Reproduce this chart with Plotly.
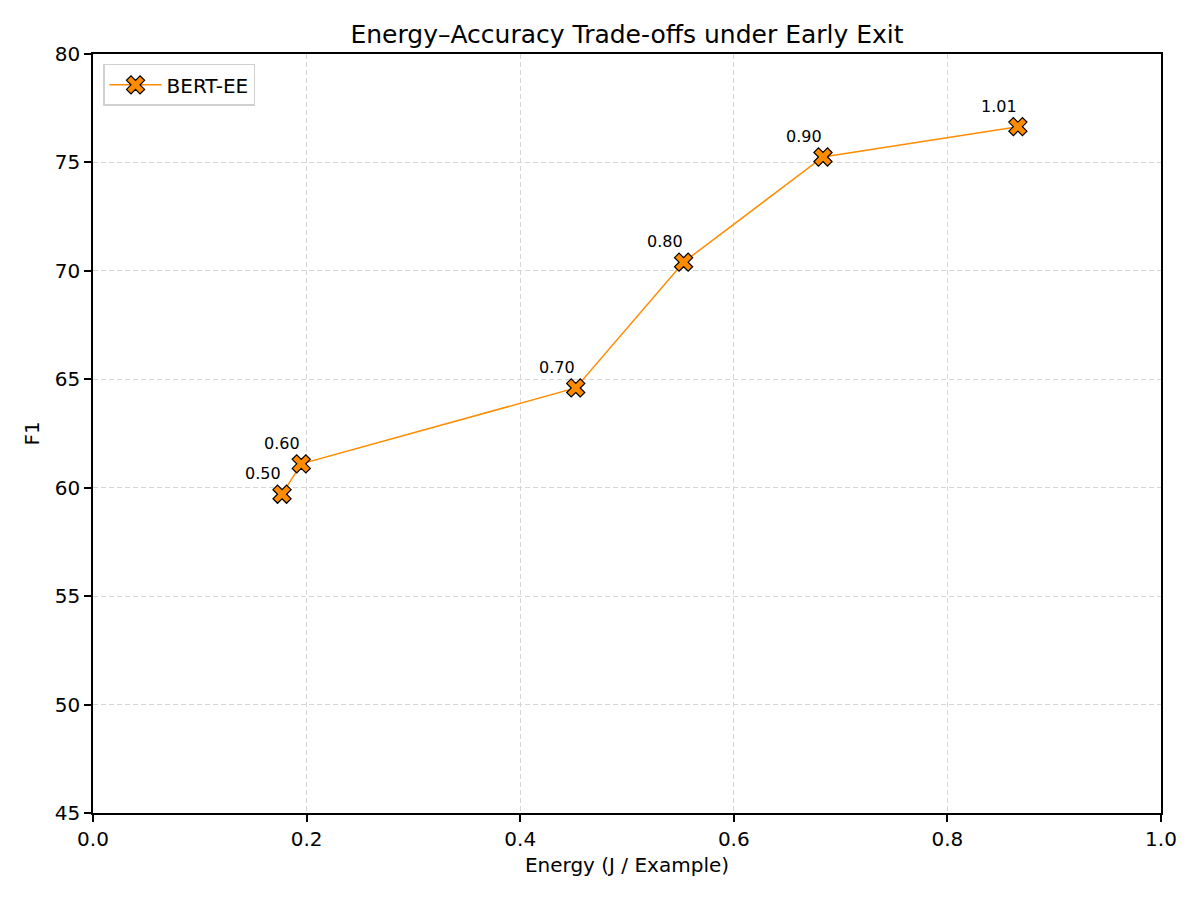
import plotly.graph_objects as go

# data
energy = [0.177, 0.195, 0.452, 0.553, 0.6835, 0.866]
f1 = [59.7, 61.1, 64.6, 70.4, 75.25, 76.65]
thresholds = ["0.50", "0.60", "0.70", "0.80", "0.90", "1.01"]

ORANGE = "#FF8C00"
FONT = "DejaVu Sans"

# the page adds an 8px body margin, so the figure is a bit smaller
W, H = 1192, 892

fig = go.Figure()

fig.add_trace(
    go.Scatter(
        x=energy,
        y=f1,
        mode="lines+markers",
        name="BERT-EE",
        line=dict(color=ORANGE, width=1.5),
        marker=dict(
            symbol="x",
            size=16,
            color=ORANGE,
            line=dict(color="black", width=1.2),
        ),
    )
)

# threshold labels above-left of each point
for x, y, t in zip(energy, f1, thresholds):
    fig.add_annotation(
        x=x,
        y=y,
        text=t,
        showarrow=False,
        xanchor="right",
        yanchor="bottom",
        xshift=1,
        yshift=9,
        font=dict(family=FONT, size=16, color="black"),
    )

axis_common = dict(
    showline=True,
    linecolor="black",
    linewidth=1.6,
    mirror=True,
    ticks="outside",
    ticklen=7,
    tickwidth=1.6,
    tickcolor="black",
    showgrid=True,
    gridcolor="#d6d6d6",
    griddash="5px,3px",
    gridwidth=1,
    zeroline=False,
    tickfont=dict(family=FONT, size=20, color="black"),
)

fig.update_layout(
    width=W,
    height=H,
    plot_bgcolor="white",
    paper_bgcolor="white",
    font=dict(family=FONT, color="black"),
    margin=dict(l=85, r=39, t=46, b=87),
    title=dict(
        text="Energy–Accuracy Trade-offs under Early Exit",
        x=(627 - 8) / W,
        xanchor="center",
        y=1 - 26 / H,
        yanchor="middle",
        font=dict(family=FONT, size=25, color="black"),
    ),
    xaxis=dict(
        range=[0, 1],
        tickvals=[0, 0.2, 0.4, 0.6, 0.8, 1.0],
        ticktext=["0.0", "0.2", "0.4", "0.6", "0.8", "1.0"],
        title=dict(text="Energy (J / Example)", font=dict(family=FONT, size=20), standoff=8),
        **axis_common,
    ),
    yaxis=dict(
        range=[45, 80],
        tickvals=[45, 50, 55, 60, 65, 70, 75, 80],
        title=dict(text="F1", font=dict(family=FONT, size=20), standoff=10),
        **axis_common,
    ),
    showlegend=True,
    legend=dict(
        x=0.0094,
        y=0.987,
        xanchor="left",
        yanchor="top",
        itemwidth=52,
        bordercolor="#d0d0d0",
        borderwidth=1.5,
        bgcolor="rgba(255,255,255,0.8)",
        font=dict(family=FONT, size=20, color="black"),
    ),
)

fig.write_html("out.html")
